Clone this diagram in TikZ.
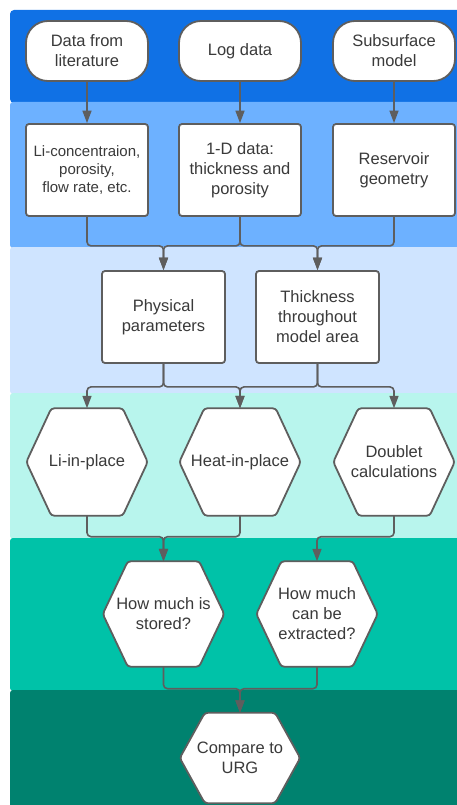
\documentclass[tikz,border=0pt]{standalone}
\usepackage{fontspec}
\setmainfont{Liberation Sans}
\usetikzlibrary{arrows.meta}

\definecolor{bandA}{HTML}{1071E5}
\definecolor{bandB}{HTML}{6DB1FF}
\definecolor{bandC}{HTML}{CFE4FF}
\definecolor{bandD}{HTML}{B8F5ED}
\definecolor{bandE}{HTML}{00C2A8}
\definecolor{bandF}{HTML}{00826F}
\definecolor{linegray}{HTML}{5E5E5E}
\definecolor{textgray}{HTML}{3A3A3A}

\pgfdeclarelayer{bands}
\pgfdeclarelayer{hexes}
\pgfsetlayers{bands,hexes,main}

\begin{document}
\begin{tikzpicture}[x=1pt, y=-1pt,
  txt/.style={text=textgray, align=center, font=\fontsize{16.5}{20}\selectfont},
  termbox/.style={txt, shape=rectangle, draw=linegray, fill=white, line width=1.8pt, rounded corners=22pt, minimum width=122pt, minimum height=60pt},
  rectbox/.style={txt, shape=rectangle, draw=linegray, fill=white, line width=1.8pt, rounded corners=3pt, minimum width=122pt, minimum height=92pt},
  hexbox/.style={txt, minimum width=121pt, minimum height=107pt, inner sep=0pt},
  hexline/.style={draw=linegray, fill=white, line width=1.8pt, rounded corners=3pt},
  flowline/.style={draw=linegray, line width=1.6pt, rounded corners=4pt, -{Triangle[width=9pt,length=12.5pt]}}]
\useasboundingbox (0,0) rectangle (457,805);

% swim lanes
\begin{pgfonlayer}{bands}
\begin{scope}
\clip (0,0) rectangle (457,805);
\fill[bandA, rounded corners=4pt] (10,10) rectangle (480,103);
\fill[bandB, rounded corners=3pt] (10,102) rectangle (480,248);
\fill[bandC, rounded corners=3pt] (10,247) rectangle (480,394);
\fill[bandD, rounded corners=3pt] (10,393) rectangle (480,539);
\fill[bandE, rounded corners=3pt] (10,538) rectangle (480,691);
\fill[bandF, rounded corners=3pt] (10,690) rectangle (480,830);
\end{scope}
\end{pgfonlayer}

\node[termbox] (dfl) at (87,51) {Data from\\literature};
\node[termbox] (log) at (240,51) {Log data};
\node[termbox] (sub) at (394,51) {Subsurface\\model};

\node[rectbox, font=\fontsize{15}{18}\selectfont] (lic) at (87,170) {Li-concentraion,\\porosity,\\flow rate, etc.};
\node[rectbox] (oned) at (240,170) {1-D data:\\thickness and\\porosity};
\node[rectbox] (res) at (394,170) {Reservoir\\geometry};

\node[rectbox, minimum width=123pt] (phy) at (163.5,317) {Physical\\parameters};
\node[rectbox, minimum width=123pt] (thk) at (317.5,317) {Thickness\\throughout\\model area};

\node[hexbox] (lip) at (87,462) {Li-in-place};
\node[hexbox] (hip) at (240,462) {Heat-in-place};
\node[hexbox] (dbl) at (394,462) {Doublet\\calculations};

\node[hexbox, minimum height=105pt] (sto) at (163.5,614) {How much is\\stored?};
\node[hexbox, minimum height=105pt] (ext) at (317,614) {How much\\can be\\extracted?};

\node[hexbox, minimum width=120pt, minimum height=90pt] (cmp) at (240,758) {Compare to\\URG};

% hexagon outlines behind the texts
\begin{pgfonlayer}{hexes}
\foreach \n in {lip,hip,dbl,sto,ext,cmp}
  \draw[hexline] (\n.west) -- ([xshift=25pt]\n.north west) -- ([xshift=-25pt]\n.north east)
    -- (\n.east) -- ([xshift=-25pt]\n.south east) -- ([xshift=25pt]\n.south west) -- cycle;
\end{pgfonlayer}

\path[flowline] (dfl) -- (lic);
\path[flowline] (log) -- (oned);
\path[flowline] (sub) -- (res);

\path[flowline] (lic.south) -- ++(0,29) -| (phy.north);
\path[flowline] (oned.south) -- ++(0,29) -| (phy.north);
\path[flowline] (oned.south) -- ++(0,29) -| (thk.north);
\path[flowline] (res.south) -- ++(0,29) -| (thk.north);

\path[flowline] (phy.south) -- ++(0,23) -| (lip.north);
\path[flowline] (phy.south) -- ++(0,23) -| (hip.north);
\path[flowline] (thk.south) -- ++(0,23) -| (hip.north);
\path[flowline] (thk.south) -- ++(0,23) -| (dbl.north);

\path[flowline] (lip.south) -- ++(0,21) -| (sto.north);
\path[flowline] (hip.south) -- ++(0,21) -| (sto.north);
\path[flowline] (dbl.south) -- ++(0,21) -| (ext.north);

\path[flowline] (sto.south) -- ++(0,22) -| (cmp.north);
\path[flowline] (ext.south) -- ++(0,22) -| (cmp.north);
\end{tikzpicture}
\end{document}
